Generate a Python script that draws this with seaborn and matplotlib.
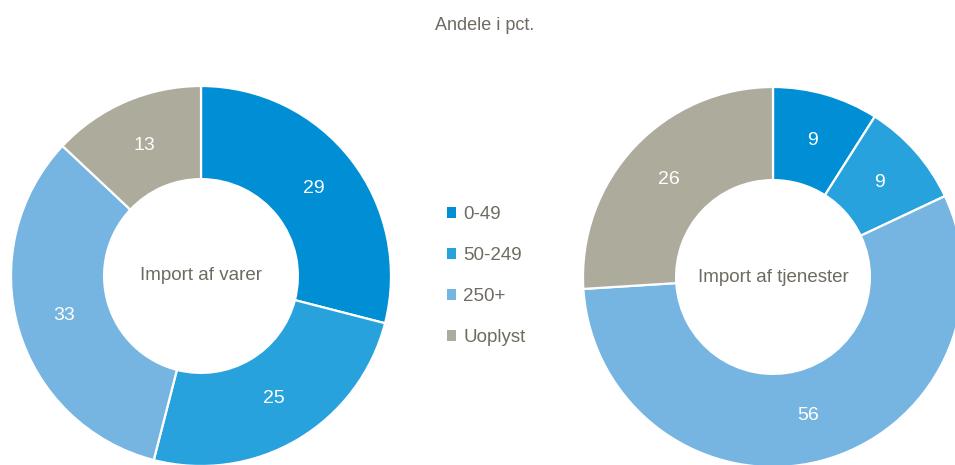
import matplotlib
matplotlib.use("Agg")
import matplotlib.pyplot as plt
import seaborn as sns
from matplotlib.patches import Patch

# ---------- data ----------
categories = ["0-49", "50-249", "250+", "Uoplyst"]
varer = [29, 25, 33, 13]
tjenester = [9, 9, 56, 26]
titles = ["Import af varer", "Import af tjenester"]
subtitle = "Andele i pct."

colors = ["#008fd5", "#28a2dc", "#76b5e2", "#acab9c"]
text_col = "#6e6b60"

sns.set_theme(style="white")
plt.rcParams["font.family"] = ["Liberation Sans Narrow", "Liberation Sans", "DejaVu Sans"]

W, H = 955, 465
fig = plt.figure(figsize=(W / 100, H / 100), dpi=100)
ax = fig.add_axes([0, 0, 1, 1])

# pixel positions of the two donuts (x, y from top)
centers = [(201, 276), (773, 277)]
radius = 190

for vals, (cx, cy), title in zip([varer, tjenester], centers, titles):
    wedges, texts = ax.pie(
        vals, colors=colors, startangle=90, counterclock=False,
        center=(cx, H - cy), radius=radius,
        labels=[str(v) for v in vals], labeldistance=0.75,
        wedgeprops=dict(width=radius * 0.49, edgecolor="white", linewidth=1.6),
        textprops=dict(color="white", fontsize=14),
    )
    for t in texts:
        t.set_ha("center")
        t.set_va("center")
    ax.text(cx, H - cy, title, ha="center", va="center", color=text_col, fontsize=13.5)

ax.set_xlim(0, W)
ax.set_ylim(0, H)
ax.set_aspect("equal")
ax.axis("off")

fig.text(485 / W, 1 - 26 / H, subtitle, ha="center", va="center", color=text_col, fontsize=13)

handles = [Patch(facecolor=c, edgecolor="none") for c in colors]
leg = ax.legend(handles, categories, loc="center left", bbox_to_anchor=(439 / W, 1 - 276 / H),
                frameon=False, fontsize=13.5, handlelength=0.5, handleheight=0.5,
                handletextpad=0.4, labelspacing=1.28, borderaxespad=0)
for t in leg.get_texts():
    t.set_color(text_col)

fig.savefig("out.png", dpi=100)
